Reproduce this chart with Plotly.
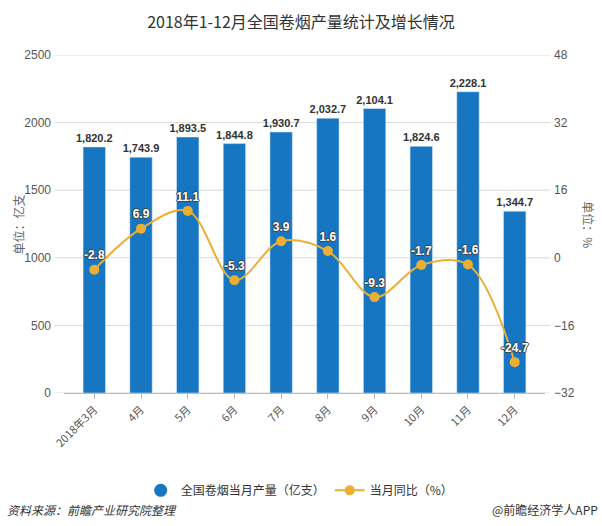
import plotly.graph_objects as go

months = ["2018年3月", "4月", "5月", "6月", "7月", "8月", "9月", "10月", "11月", "12月"]
output = [1820.2, 1743.9, 1893.5, 1844.8, 1930.7, 2032.7, 2104.1, 1824.6, 2228.1, 1344.7]
yoy = [-2.8, 6.9, 11.1, -5.3, 3.9, 1.6, -9.3, -1.7, -1.6, -24.7]
left_ticks = [0, 500, 1000, 1500, 2000, 2500]
right_ticks = [-32, -16, 0, 16, 32, 48]

BLUE = "#1776C2"
ORANGE = "#EBAF35"
FONT = "Noto Sans CJK SC, Liberation Sans, sans-serif"
NUMFONT = "Liberation Sans, Arial, sans-serif"

fig = go.Figure()
fig.add_trace(go.Bar(
    x=months, y=output, name="全国卷烟当月产量（亿支）", marker_color=BLUE,
    width=0.48, showlegend=False,
    texttemplate="%{y:,.1f}", textposition="outside", cliponaxis=False,
    constraintext="none",
    textfont=dict(family=NUMFONT, size=11, color="#333", weight="bold"),
))
fig.add_trace(go.Scatter(
    x=[None], y=[None], mode="markers", name="全国卷烟当月产量（亿支）",
    marker=dict(color=BLUE, size=13, symbol="circle"),
))
fig.add_trace(go.Scatter(
    x=months, y=yoy, name="当月同比（%）", yaxis="y2",
    mode="lines+markers+text", line=dict(color=ORANGE, width=2, shape="spline", smoothing=1),
    marker=dict(color=ORANGE, size=10),
    text=[f"{v:.1f}" for v in yoy], textposition="top center", cliponaxis=False,
    textfont=dict(family=NUMFONT, size=12, color="white", weight="bold",
                  shadow="-1px 0 #444, 1px 0 #444, 0 -1px #444, 0 1px #444"),
))

shapes = [
    dict(type="line", xref="paper", yref="y", x0=-0.02, x1=1.01, y0=t, y1=t,
         line=dict(color="#d9d9d9", width=1), layer="below")
    for t in left_ticks
]

fig.update_layout(
    width=602, height=526,
    margin=dict(l=64, r=57, t=55, b=132.5),
    paper_bgcolor="white", plot_bgcolor="white",
    font=dict(family=FONT, color="#333"),
    title=dict(text="2018年1-12月全国卷烟产量统计及增长情况", x=0.5, xanchor="center",
               y=1 - 22 / 526, yanchor="middle", font=dict(size=16, color="#333")),
    xaxis=dict(type="category", tickangle=-45, showgrid=False, showline=True,
               linecolor="#bbb", ticks="outside", ticklen=5, tickcolor="#bbb",
               automargin=False,
               tickfont=dict(size=11, color="#555", family=FONT)),
    yaxis=dict(range=[0, 2500], tickvals=left_ticks, showgrid=False, zeroline=False,
               showline=False, automargin=False,
               tickfont=dict(size=12, color="#555", family=NUMFONT),
               ticklabelstandoff=12),
    yaxis2=dict(range=[-32, 48], tickvals=right_ticks, overlaying="y", side="right",
                showgrid=False, zeroline=False, showline=False, automargin=False,
                tickfont=dict(size=12, color="#555", family=NUMFONT), ticklabelstandoff=8),
    legend=dict(orientation="h", x=0.49, xanchor="center", y=-0.288, yanchor="middle",
                font=dict(size=12, color="#333"), itemwidth=30, traceorder="normal"),
    shapes=shapes,
    annotations=[
        dict(text="单位：亿支", xref="paper", yref="paper", x=-0.116, y=0.498,
             textangle=-90, showarrow=False, font=dict(size=12, color="#666")),
        dict(text="单位：%", xref="paper", yref="paper", x=1.112, y=0.498,
             textangle=90, showarrow=False, font=dict(size=12, color="#666")),
        dict(text="<i>资料来源：前瞻产业研究院整理</i>", xref="paper", yref="paper",
             x=-0.1227, y=-0.344, xanchor="left", yanchor="middle", showarrow=False,
             font=dict(size=12, color="#333")),
        dict(text="@前瞻经济学人APP", xref="paper", yref="paper",
             x=1.114, y=-0.344, xanchor="right", yanchor="middle", showarrow=False,
             font=dict(size=12, color="#333")),
    ],
)

fig.write_html("out.html", config={"displayModeBar": False},
               post_script="document.body.style.margin='0';")
